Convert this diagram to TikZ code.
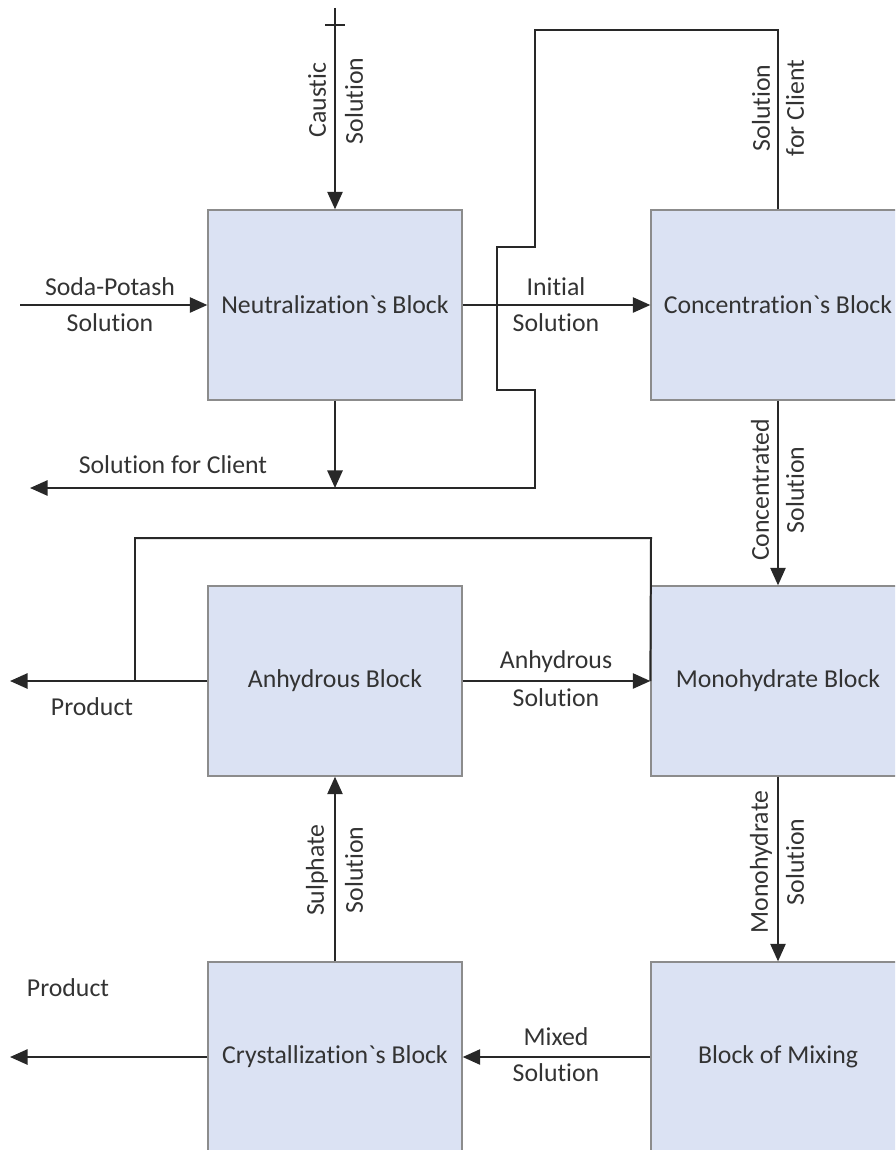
\documentclass[tikz,border=0pt]{standalone}
\usepackage{fontspec}
\newfontfamily\blockfont{Carlito}[Ligatures={TeXOff,NoCommon}]
\usepackage{tikz}
\usetikzlibrary{arrows.meta, positioning, calc}
\definecolor{blockfill}{RGB}{219,226,243}
\definecolor{blockline}{RGB}{140,140,140}
\definecolor{flowline}{RGB}{40,40,40}

\begin{document}
\begin{tikzpicture}[x=0.03cm,y=-0.03cm,
    block/.style={draw=blockline, line width=1.1pt, fill=blockfill,
        minimum width=7.62cm, minimum height=5.7cm, inner sep=0pt,
        font=\blockfont\fontsize{22}{26}\selectfont, text=black!80},
    flow/.style={draw=flowline, line width=1.7pt, -{Triangle[length=15pt,width=13pt]}},
    pipe/.style={draw=flowline, line width=1.7pt},
    lbl/.style={font=\blockfont\fontsize{22}{26}\selectfont, text=black!80, inner sep=0pt},
    vlbl/.style={lbl, rotate=90}]

            % Khung hình
            \clip (0,0) rectangle (895,1150);

            % Các khối
            \node[block] (neut) at (335,305) {Neutralization`s Block};
            \node[block] (conc) at (778,305) {Concentration`s Block};
            \node[block] (anhyd) at (335,681) {Anhydrous Block};
            \node[block] (mono) at (778,681) {Monohydrate Block};
            \node[block] (cryst) at (335,1057) {Crystallization`s Block};
            \node[block] (mix) at (778,1057) {Block of Mixing};

            % Điểm vào / ra
            \coordinate (causticin) at (335,8);
            \coordinate (sodain) at (20,305);
            \coordinate (clientout) at (30,488);
            \coordinate (prodout) at (10,681);
            \coordinate (prodout2) at (10,1057);

            % Dòng chảy
            \draw[flow] (causticin) -- (neut.north);
            \draw[pipe] (325,25) -- (345,25); % vạch ngang
            \draw[flow] (sodain) -- (neut.west);
            \draw[flow] (neut.east) -- (conc.west);
            \draw[flow] (conc.north) -- (778,30) -- (535,30) -- (535,247) -- (497,247)
                -- (497,390) -- (535,390) |- (clientout);
            \draw[flow] (neut.south) -- (neut.south |- clientout);
            \draw[flow] (conc.south) -- (mono.north);
            \draw[flow] (anhyd.east) -- (mono.west);
            \draw[pipe] (mono.west) -- (651,538) -| (135,681);
            \draw[flow] (anhyd.west) -- (prodout);
            \draw[flow] (mono.south) -- (mix.north);
            \draw[flow] (cryst.north) -- (anhyd.south);
            \draw[flow] (mix.west) -- (cryst.east);
            \draw[flow] (cryst.west) -- (prodout2);

            % Nhãn
            \node[vlbl] (l1) at (317,100) {Caustic};
            \node[vlbl] (l2) at (354,101) {Solution};
            \node[lbl] (l3) at (110,287) {Soda-Potash};
            \node[lbl] (l4) at (110,323) {Solution};
            \node[lbl] (l5) at (556,287) {Initial};
            \node[lbl] (l6) at (556,323) {Solution};
            \node[vlbl] (l7) at (761,108) {Solution};
            \node[vlbl] (l8) at (795,108) {for Client};
            \node[lbl] (l9) at (173,465) {Solution for Client};
            \node[vlbl] (l10) at (760,490) {Concentrated};
            \node[vlbl] (l11) at (795,490) {Solution};
            \node[lbl] (l12) at (556,662) {Anhydrous};
            \node[lbl] (l13) at (556,698) {Solution};
            \node[lbl] (l14) at (92,707) {Product};
            \node[vlbl] (l15) at (761,862) {Monohydrate};
            \node[vlbl] (l16) at (795,862) {Solution};
            \node[vlbl] (l17) at (317,870) {Sulphate};
            \node[vlbl] (l18) at (354,870) {Solution};
            \node[lbl] (l19) at (556,1037) {Mixed};
            \node[lbl] (l20) at (556,1073) {Solution};
            \node[lbl] (l21) at (68,988) {Product};

\end{tikzpicture}
\end{document}
